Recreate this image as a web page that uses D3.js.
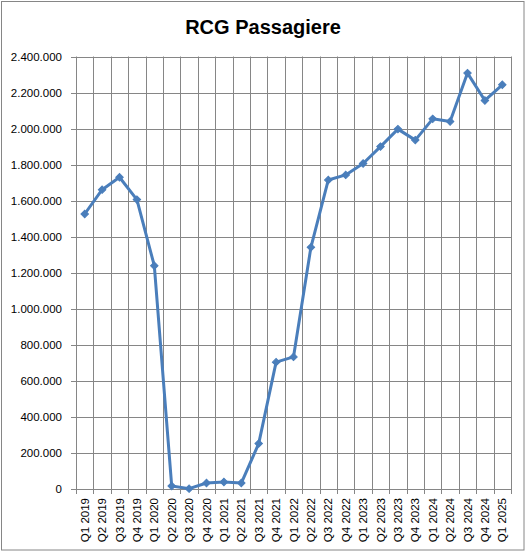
<!DOCTYPE html>
<html>
<head>
<meta charset="utf-8">
<script src="https://cdn.jsdelivr.net/npm/d3@7"></script>
<style>
  body { margin: 0; background: #fff; }
  text { font-family: "Liberation Sans", Arial, sans-serif; fill: #000; }
</style>
</head>
<body>
<svg id="chart" width="527" height="553"></svg>
<script>
const quarters = [
  'Q1 2019', 'Q2 2019', 'Q3 2019', 'Q4 2019',
  'Q1 2020', 'Q2 2020', 'Q3 2020', 'Q4 2020',
  'Q1 2021', 'Q2 2021', 'Q3 2021', 'Q4 2021',
  'Q1 2022', 'Q2 2022', 'Q3 2022', 'Q4 2022',
  'Q1 2023', 'Q2 2023', 'Q3 2023', 'Q4 2023',
  'Q1 2024', 'Q2 2024', 'Q3 2024', 'Q4 2024',
  'Q1 2025'
]
const passengers = [
  1526000, 1661000, 1730000, 1606000,
  1239000, 17000, 2000, 33000,
  39000, 33000, 252000, 704000,
  733000, 1341000, 1715000, 1743000,
  1806000, 1900000, 1997000, 1936000,
  2054000, 2039000, 2308000, 2156000,
  2243000
]
const yTicks = [0, 200000, 400000, 600000, 800000, 1000000, 1200000,
  1400000, 1600000, 1800000, 2000000, 2200000, 2400000]
const title = 'RCG Passagiere'

const margin = { top: 56.5, right: 16, bottom: 64, left: 76 }
const width = 527, height = 553
const svg = d3.select('#chart')

// outer chart border
svg.append('rect')
  .attr('x', 1.5).attr('y', 1.5)
  .attr('width', 522.5).attr('height', 548.5)
  .attr('fill', '#fff')
  .attr('stroke', '#868686')

svg.append('text')
  .attr('x', 263).attr('y', 34)
  .attr('text-anchor', 'middle')
  .style('font-weight', 'bold')
  .style('font-size', '20px')
  .text(title)

const x = d3.scaleBand()
  .domain(quarters)
  .range([margin.left, width - margin.right])
const y = d3.scaleLinear()
  .domain([0, 2400000])
  .range([height - margin.bottom, margin.top])

const fmt = v => d3.format(',')(v).replace(/,/g, '.')

let grid = svg.append('g').attr('class', 'grid')
// horizontal gridlines
grid.selectAll('line.h')
  .data(yTicks)
  .enter().append('line')
    .attr('class', 'h')
    .attr('x1', margin.left - 5).attr('x2', width - margin.right)
    .attr('y1', d => Math.round(y(d)) + 0.5)
    .attr('y2', d => Math.round(y(d)) + 0.5)
    .attr('stroke', '#868686')

// vertical gridlines at category boundaries
let bounds = quarters.map(q => x(q)).concat([x(quarters[quarters.length - 1]) + x.bandwidth()])
grid.selectAll('line.v')
  .data(bounds)
  .enter().append('line')
    .attr('class', 'v')
    .attr('x1', d => Math.round(d) + 0.5).attr('x2', d => Math.round(d) + 0.5)
    .attr('y1', margin.top).attr('y2', Math.round(y(0)) + 5)
    .attr('stroke', '#868686')

// y labels
svg.append('g')
  .selectAll('text')
  .data(yTicks)
  .enter().append('text')
    .attr('x', 62)
    .attr('y', d => y(d) + 4)
    .attr('text-anchor', 'end')
    .style('font-size', '11.5px')
    .text(fmt)

// x labels, rotated
svg.append('g')
  .selectAll('text')
  .data(quarters)
  .enter().append('text')
    .attr('transform', d => 'translate(' + (x(d) + x.bandwidth() / 2 + 4) + ',' + 498 + ') rotate(-90)')
    .attr('text-anchor', 'end')
    .style('font-size', '11.5px')
    .text(d => d)

const cx = (d, i) => x(quarters[i]) + x.bandwidth() / 2
let line = d3.line()
  .x(cx)
  .y(d => y(d))

svg.append('path')
  .datum(passengers)
  .attr('d', line)
  .attr('fill', 'none')
  .attr('stroke', '#4A7EBB')
  .attr('stroke-width', 3)
  .attr('stroke-linejoin', 'round')

// diamond markers: squares turned 45 degrees
svg.append('g')
  .selectAll('path')
  .data(passengers)
  .enter().append('path')
    .attr('d', d3.symbol().type(d3.symbolSquare).size(28))
    .attr('transform', (d, i) => 'translate(' + cx(d, i) + ',' + y(d) + ') rotate(45)')
    .attr('fill', '#4A7EBB')
    .attr('stroke', '#4A7EBB')
</script>
</body>
</html>
